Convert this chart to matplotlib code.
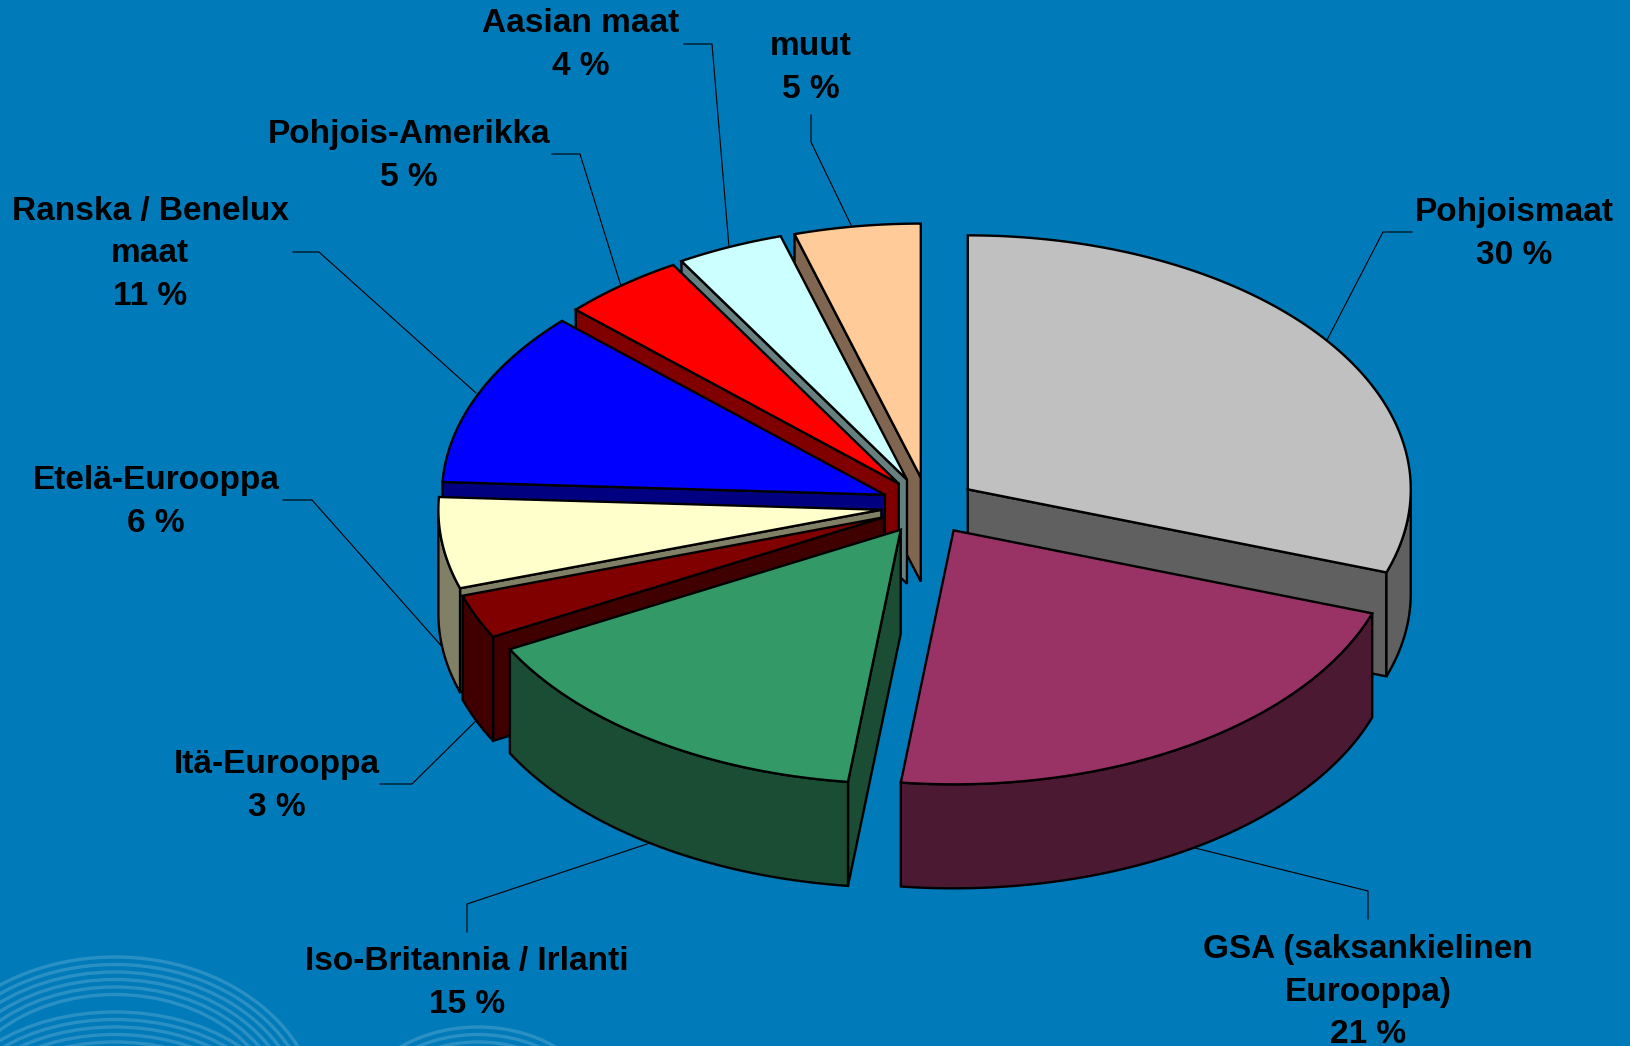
import numpy as np
import matplotlib
matplotlib.use('Agg')
import matplotlib.pyplot as plt
from matplotlib.patches import Polygon, Ellipse

# Data
names = ['Pohjoismaat', 'GSA (saksankielinen\nEurooppa)', 'Iso-Britannia / Irlanti', 'Itä-Eurooppa',
         'Etelä-Eurooppa', 'Ranska / Benelux\nmaat', 'Pohjois-Amerikka', 'Aasian maat', 'muut']
percent_labels = ['30 %', '21 %', '15 %', '3 %', '6 %', '11 %', '5 %', '4 %', '5 %']
values = [30.3, 21.6, 15.3, 2.8, 5.8, 11.2, 4.5, 3.9, 4.6]
top_colors = ['#C0C0C0', '#993366', '#339966', '#800000', '#FFFFCC', '#0000FF', '#FF0000', '#CCFFFF', '#FFCC99']
side_colors = ['#606060', '#4C1933', '#1A4D33', '#400000', '#808066', '#000080', '#800000', '#668080', '#806650']

# Pie geometry in pixels
cx, cy = 927, 506
rx, ry = 443, 254
depth = 104
explode = 0.113
nudges = {2: (2, 0), 3: (3, 0), 4: (4, 0), 5: (4, 0), 6: (3, 0), 8: (1, 0)}
bg = '#007AB8'
edge_lw = 1.7

# label centres and leader lines, in pixels
label_pos = [(1514, 234), (1368, 992), (467, 983), (277, 786), (156, 502), (150, 254), (409, 156), (581, 45), (811, 68)]
leaders = [
    [(1412, 232), (1383, 232), (1327, 340)],
    [(1368, 919), (1368, 891), (1191, 847)],
    [(467, 932), (467, 904), (653, 842)],
    [(380, 784), (412, 784), (490, 707)],
    [(283, 500), (312, 500), (445, 650)],
    [(293, 252), (319, 252), (476, 393)],
    [(552, 154), (580, 154), (621, 286)],
    [(684, 44), (712, 44), (729, 247)],
    [(811, 115), (811, 142), (852, 227)],
]

plt.rcParams['font.family'] = ['Liberation Sans', 'DejaVu Sans']

fig = plt.figure(figsize=(16.3, 10.46), dpi=100, facecolor=bg)
ax = fig.add_axes([0, 0, 1, 1])
ax.set_xlim(0, 1630)
ax.set_ylim(1046, 0)
ax.axis('off')

# Background rings bottom left
for x_c, radius_x, radius_y in [(115, 205, 163), (115, 170, 108), (478, 125, 93)]:
    for k in range(6):
        ax.add_patch(Ellipse((x_c, 1120), 2 * (radius_x - k * 8), 2 * (radius_y - k * 7.5), fill=False,
                             edgecolor='white', alpha=0.17, lw=2.4, zorder=1))

# Leader lines
for pts in leaders:
    pts = np.array(pts)
    ax.plot(pts[:, 0], pts[:, 1], color='black', lw=0.8, zorder=2)


def point(ox, oy, deg):
    t = np.radians(deg)
    return ox + rx * np.sin(t), oy - ry * np.cos(t)


def face(xs, ys, color, z):
    ax.add_patch(Polygon(np.column_stack([xs, ys]), closed=True, facecolor=color, edgecolor='black',
                         lw=edge_lw, joinstyle='miter', zorder=z))


# Slices clockwise from 12 o'clock
cum = np.cumsum([0] + values) / sum(values) * 360
starts, ends = cum[:-1], cum[1:]
mids = (starts + ends) / 2
order = np.argsort(-np.cos(np.radians(mids)))

for z, i in enumerate(order):
    z = 3 + z * 0.1
    a, b, m = starts[i], ends[i], mids[i]
    ox = cx + explode * rx * np.sin(np.radians(m))
    oy = cy - explode * ry * np.cos(np.radians(m))
    if i in nudges:
        ox += nudges[i][0]
        oy += nudges[i][1]

    # radial side faces
    for edge, show in [(a, np.sin(np.radians(a)) < 0), (b, 0 < np.sin(np.radians(b)) and b < 180)]:
        if show:
            ex, ey = point(ox, oy, edge)
            face([ox, ex, ex, ox], [oy, ey, ey + depth, oy + depth], side_colors[i], z)

    # outer wall, only the front half shows
    lo, hi = max(a, 90), min(b, 270)
    if hi > lo:
        th = np.linspace(lo, hi, 80)
        wx, wy = point(ox, oy, th)
        face(np.r_[wx, wx[::-1]], np.r_[wy, wy[::-1] + depth], side_colors[i], z)

    # top
    th = np.linspace(a, b, 120)
    tx, ty = point(ox, oy, th)
    face(np.r_[ox, tx], np.r_[oy, ty], top_colors[i], z + 0.05)

# Labels
for name, pct, (lx, ly) in zip(names, percent_labels, label_pos):
    ax.text(lx, ly, name + '\n' + pct, ha='center', va='center', fontsize=24, fontweight='bold',
            color='black', linespacing=1.46, zorder=10)

fig.savefig('out.png', dpi=100, facecolor=bg)
